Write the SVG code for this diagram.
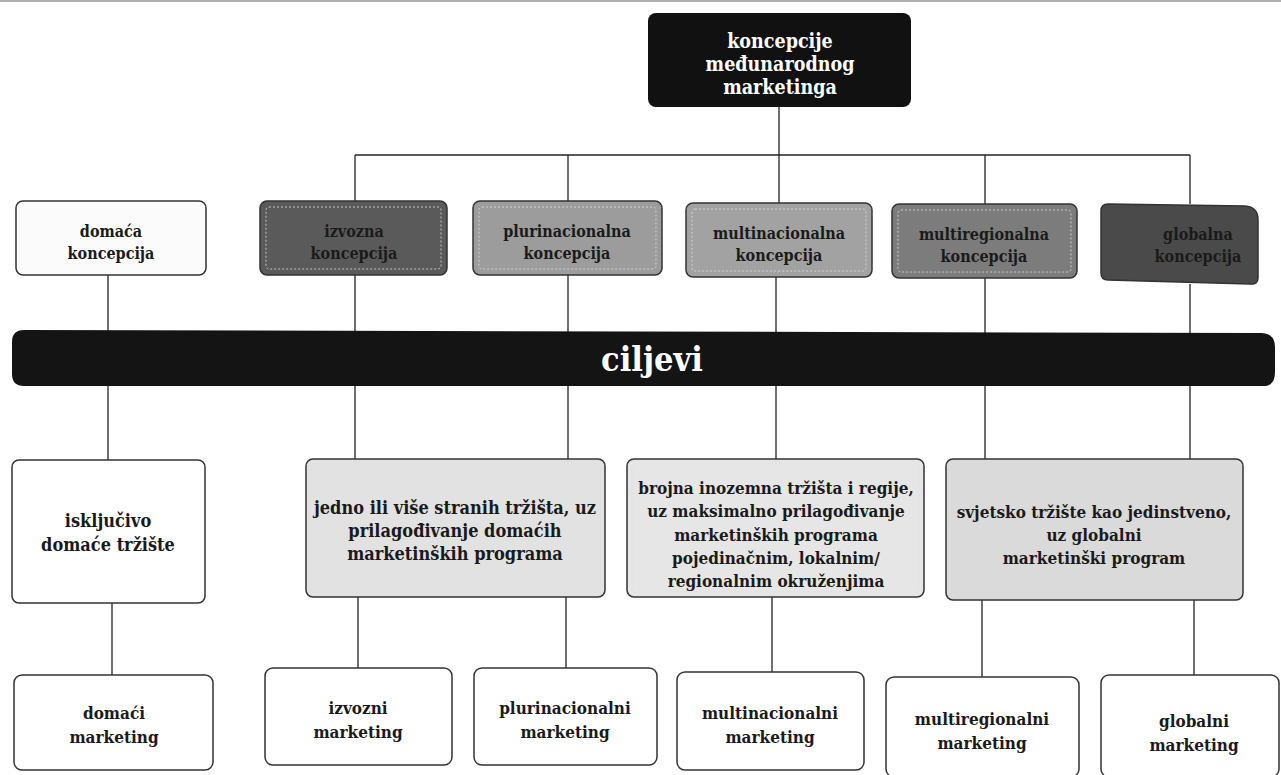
<svg xmlns="http://www.w3.org/2000/svg" width="1281" height="775" viewBox="0 0 1281 775">
<style>
.t{font-family:"DejaVu Serif Condensed","DejaVu Serif","Liberation Serif",serif;font-stretch:condensed;font-weight:bold;text-anchor:middle;fill:#1a1a1a}
.w{fill:#fff}
.line{stroke:#222;stroke-width:1.3;fill:none}
.box{stroke:#333;stroke-width:1.5}
.inner{fill:none;stroke:#ddd;stroke-width:0.8;stroke-dasharray:2 2}
</style>
<rect x="0" y="0" width="1281" height="775" fill="#fff"/>
<line x1="0" y1="1" x2="1281" y2="1" stroke="#999" stroke-width="1.5"/>

<g id="connectors" class="line">
  <line x1="779" y1="107" x2="779" y2="155"/>
  <line x1="355" y1="155" x2="1190" y2="155"/>
  <line x1="355" y1="155" x2="355" y2="201"/>
  <line x1="568" y1="155" x2="568" y2="201"/>
  <line x1="779" y1="155" x2="779" y2="203"/>
  <line x1="985" y1="155" x2="985" y2="204"/>
  <line x1="1190" y1="155" x2="1190" y2="204"/>
  <line x1="108" y1="275" x2="108" y2="460"/>
  <line x1="355" y1="275" x2="355" y2="459"/>
  <line x1="568" y1="275" x2="568" y2="459"/>
  <line x1="776" y1="277" x2="776" y2="459"/>
  <line x1="985" y1="278" x2="985" y2="459"/>
  <line x1="1190" y1="284" x2="1190" y2="459"/>
  <line x1="112" y1="603" x2="112" y2="675"/>
  <line x1="358" y1="597" x2="358" y2="668"/>
  <line x1="566" y1="597" x2="566" y2="668"/>
  <line x1="772" y1="597" x2="772" y2="672"/>
  <line x1="982" y1="600" x2="982" y2="677"/>
  <line x1="1194" y1="600" x2="1194" y2="675"/>
</g>

<g id="root">
  <rect x="648" y="13" width="263" height="94" rx="8" fill="#111"/>
  <text class="t w" x="780" y="48" font-size="19.5">koncepcije</text>
  <text class="t w" x="780" y="71" font-size="19.5">međunarodnog</text>
  <text class="t w" x="780" y="94" font-size="19.5">marketinga</text>
</g>

<g id="c-domaca">
  <rect class="box" x="16" y="201" width="190" height="74" rx="7" fill="#fbfbfb"/>
  <text class="t" x="111" y="237" font-size="16">domaća</text>
  <text class="t" x="111" y="259" font-size="16">koncepcija</text>
</g>
<g id="c-izvozna">
  <rect class="box" x="260" y="201" width="187" height="74" rx="7" fill="#5a5a5a"/>
  <rect class="inner" x="266" y="207" width="175" height="62" rx="3"/>
  <text class="t" x="354" y="237" font-size="16">izvozna</text>
  <text class="t" x="354" y="259" font-size="16">koncepcija</text>
</g>
<g id="c-plurinacionalna">
  <rect class="box" x="473" y="201" width="189" height="74" rx="7" fill="#9c9c9c"/>
  <rect class="inner" x="479" y="207" width="177" height="62" rx="3"/>
  <text class="t" x="567" y="237" font-size="16">plurinacionalna</text>
  <text class="t" x="567" y="259" font-size="16">koncepcija</text>
</g>
<g id="c-multinacionalna">
  <rect class="box" x="686" y="203" width="186" height="74" rx="7" fill="#a2a2a2"/>
  <rect class="inner" x="692" y="209" width="174" height="62" rx="3"/>
  <text class="t" x="779" y="239" font-size="16">multinacionalna</text>
  <text class="t" x="779" y="261" font-size="16">koncepcija</text>
</g>
<g id="c-multiregionalna">
  <rect class="box" x="892" y="204" width="185" height="74" rx="7" fill="#7c7c7c"/>
  <rect class="inner" x="898" y="210" width="173" height="62" rx="3"/>
  <text class="t" x="984" y="240" font-size="16">multiregionalna</text>
  <text class="t" x="984" y="262" font-size="16">koncepcija</text>
</g>
<g id="c-globalna">
  <path class="box" d="M1108,204 L1245,206 Q1258,207 1258,220 L1258,278 Q1258,285 1250,284 L1108,280 Q1101,280 1101,273 L1101,211 Q1101,204 1108,204 Z" fill="#4a4a4a"/>
  <text class="t" x="1198" y="240" font-size="16">globalna</text>
  <text class="t" x="1198" y="262" font-size="16">koncepcija</text>
</g>

<g id="ciljevi">
  <path d="M24,330 L1262,333 Q1275,334 1275,347 L1275,372 Q1275,387 1262,386 L24,386 Q12,386 12,374 L12,342 Q12,330 24,330 Z" fill="#141414"/>
  <text class="t w" x="652" y="371" font-size="34">ciljevi</text>
</g>

<g id="g-domace">
  <rect class="box" x="12" y="460" width="193" height="143" rx="7" fill="#fff"/>
  <text class="t" x="108" y="527" font-size="18">isključivo</text>
  <text class="t" x="108" y="551" font-size="18">domaće tržište</text>
</g>
<g id="g-izvozni">
  <rect class="box" x="306" y="459" width="299" height="138" rx="7" fill="#e2e2e2"/>
  <rect class="inner" x="311" y="464" width="289" height="128" rx="3"/>
  <text class="t" x="455" y="514" font-size="18">jedno ili više stranih tržišta, uz</text>
  <text class="t" x="455" y="537" font-size="18">prilagođivanje domaćih</text>
  <text class="t" x="455" y="560" font-size="18">marketinških programa</text>
</g>
<g id="g-multi">
  <rect class="box" x="627" y="459" width="297" height="138" rx="7" fill="#e6e6e6"/>
  <rect class="inner" x="632" y="464" width="287" height="128" rx="3"/>
  <text class="t" x="776" y="494" font-size="17">brojna inozemna tržišta i regije,</text>
  <text class="t" x="776" y="517" font-size="17">uz maksimalno prilagođivanje</text>
  <text class="t" x="776" y="541" font-size="17">marketinških programa</text>
  <text class="t" x="776" y="564" font-size="17">pojedinačnim, lokalnim/</text>
  <text class="t" x="776" y="587" font-size="17">regionalnim okruženjima</text>
</g>
<g id="g-globalni">
  <rect class="box" x="946" y="459" width="297" height="141" rx="7" fill="#dadada"/>
  <rect class="inner" x="951" y="464" width="287" height="131" rx="3"/>
  <text class="t" x="1094" y="518" font-size="17">svjetsko tržište kao jedinstveno,</text>
  <text class="t" x="1094" y="541" font-size="17">uz globalni</text>
  <text class="t" x="1094" y="564" font-size="17">marketinški program</text>
</g>

<g id="m-domaci">
  <rect class="box" x="14" y="675" width="199" height="95" rx="8" fill="#fff"/>
  <text class="t" x="114" y="719" font-size="17">domaći</text>
  <text class="t" x="114" y="743" font-size="17">marketing</text>
</g>
<g id="m-izvozni">
  <rect class="box" x="265" y="668" width="187" height="97" rx="8" fill="#fff"/>
  <text class="t" x="358" y="714" font-size="17">izvozni</text>
  <text class="t" x="358" y="738" font-size="17">marketing</text>
</g>
<g id="m-plurinacionalni">
  <rect class="box" x="474" y="668" width="183" height="97" rx="8" fill="#fff"/>
  <text class="t" x="565" y="714" font-size="17">plurinacionalni</text>
  <text class="t" x="565" y="738" font-size="17">marketing</text>
</g>
<g id="m-multinacionalni">
  <rect class="box" x="677" y="672" width="187" height="98" rx="8" fill="#fff"/>
  <text class="t" x="770" y="719" font-size="17">multinacionalni</text>
  <text class="t" x="770" y="743" font-size="17">marketing</text>
</g>
<g id="m-multiregionalni">
  <rect class="box" x="886" y="677" width="193" height="100" rx="8" fill="#fff"/>
  <text class="t" x="982" y="725" font-size="17">multiregionalni</text>
  <text class="t" x="982" y="749" font-size="17">marketing</text>
</g>
<g id="m-globalni">
  <rect class="box" x="1101" y="675" width="178" height="102" rx="8" fill="#fff"/>
  <text class="t" x="1194" y="727" font-size="17">globalni</text>
  <text class="t" x="1194" y="751" font-size="17">marketing</text>
</g>
</svg>
